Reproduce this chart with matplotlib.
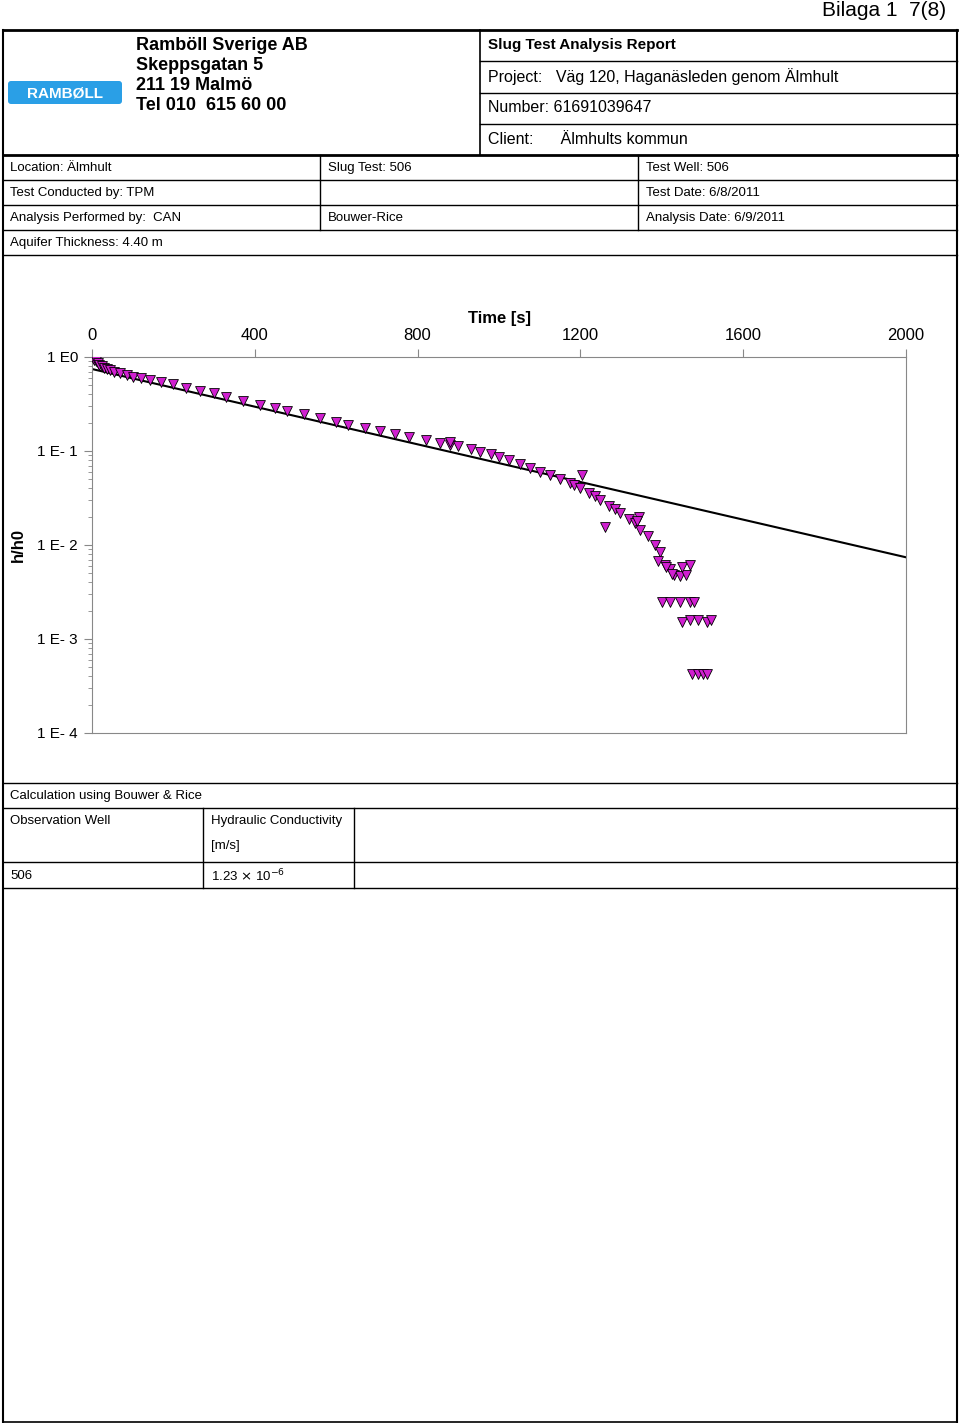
import matplotlib
matplotlib.use("Agg")
import matplotlib.pyplot as plt
from matplotlib.patches import FancyBboxPatch
from matplotlib.ticker import LogLocator, NullFormatter

plt.rcParams['font.family'] = ['Liberation Sans', 'DejaVu Sans']

# data (time in s, h/h0)
time_s = [2, 6, 10, 14, 18, 24, 30, 38, 45, 55, 69, 85, 100, 120, 143, 170, 200, 230, 265, 300, 330, 370,
          413, 450, 480, 520, 560, 600, 630, 670, 708, 745, 780, 820, 855, 880, 900, 930, 953, 980,
          1000, 1025, 1052, 1075, 1100, 1125, 1150, 1175, 1185, 1199, 1220, 1235, 1248, 1270, 1285, 1297,
          1320, 1335, 1346, 1365, 1383,
          1395, 1408, 1420, 1430, 1445, 1460, 1390, 1410, 1425, 1450, 1470,
          1400, 1420, 1445, 1470, 1480, 1450, 1470, 1490, 1510, 1520,
          1475, 1490, 1500, 1510, 1205, 1345, 1260, 1340, 880]
h_ratio = [0.97, 0.93, 0.90, 0.86, 0.83, 0.80, 0.77, 0.74, 0.72, 0.70, 0.68, 0.65, 0.62, 0.60, 0.57, 0.54,
           0.51, 0.47, 0.44, 0.41, 0.38, 0.34, 0.31, 0.285, 0.265, 0.245, 0.225, 0.205, 0.19, 0.175, 0.163,
           0.15, 0.14, 0.13, 0.122, 0.116, 0.112, 0.105, 0.098, 0.092, 0.087, 0.080, 0.072, 0.066, 0.060,
           0.055, 0.050, 0.046, 0.043, 0.040, 0.036, 0.033, 0.030, 0.026, 0.024, 0.022,
           0.019, 0.017, 0.0145, 0.0125, 0.010, 0.0085, 0.0062, 0.0055, 0.0048, 0.0047, 0.0048, 0.0068,
           0.0058, 0.0049, 0.0058, 0.0062, 0.0025, 0.0025, 0.0025, 0.0025, 0.0025, 0.0015, 0.0016, 0.0016,
           0.0015, 0.0016, 0.00042, 0.00042, 0.00042, 0.00042, 0.055, 0.020, 0.0155, 0.018, 0.125]
fit_t = [0, 2000]
fit_h = [0.745, 0.0074]

xticks = [0, 400, 800, 1200, 1600, 2000]
yticks = [1e0, 1e-1, 1e-2, 1e-3, 1e-4]
ylabels = ['1 E0', '1 E- 1', '1 E- 2', '1 E- 3', '1 E- 4']

W, H = 960, 1423
fig = plt.figure(figsize=(9.6, 14.23), dpi=100)
bg = fig.add_axes([0, 0, 1, 1])
bg.set_xlim(0, W); bg.set_ylim(H, 0); bg.axis('off')

def hl(y, x0=3, x1=957, lw=1.0):
    bg.plot([x0, x1], [y, y], color='black', lw=lw)
def vl(x, y0, y1, lw=1.0):
    bg.plot([x, x], [y0, y1], color='black', lw=lw)
def tx(x, y, s, size=9.5, **kw):
    bg.text(x, y, s, fontsize=size, va='center', ha='left', **kw)

hl(30, lw=2); hl(1422, lw=1.2); vl(3, 30, 1422, lw=1.5); vl(957, 30, 1422, lw=1.5)
hl(155, lw=2)
vl(480, 30, 155, lw=1.2)
for y in (61, 93, 124):
    hl(y, 480, 957)
for y in (180, 205, 230, 255):
    hl(y)
vl(320, 155, 230); vl(638, 155, 230)
for y in (783, 808, 862, 888):
    hl(y)
vl(203, 808, 888); vl(354, 808, 888)

tx(822, 11, 'Bilaga 1  7(8)', size=15)
bg.add_patch(FancyBboxPatch((8, 81), 114, 23, boxstyle='round,pad=0,rounding_size=3',
                            fc='#2a9fe6', ec='none'))
bg.text(65, 93, 'RAMBØLL', fontsize=11, color='white', weight='bold', ha='center', va='center')
for i, s in enumerate(['Ramböll Sverige AB', 'Skeppsgatan 5', '211 19 Malmö', 'Tel 010  615 60 00']):
    tx(136, 45 + i * 20, s, size=13, weight='bold')
tx(488, 45, 'Slug Test Analysis Report', size=11, weight='bold')
tx(488, 77, 'Project:   Väg 120, Haganäsleden genom Älmhult', size=11.5)
tx(488, 108, 'Number: 61691039647', size=11.5)
tx(488, 139, 'Client:      Älmhults kommun', size=11.5)
tx(10, 168, 'Location: Älmhult'); tx(328, 168, 'Slug Test: 506'); tx(646, 168, 'Test Well: 506')
tx(10, 193, 'Test Conducted by: TPM'); tx(646, 193, 'Test Date: 6/8/2011')
tx(10, 218, 'Analysis Performed by:  CAN'); tx(328, 218, 'Bouwer-Rice'); tx(646, 218, 'Analysis Date: 6/9/2011')
tx(10, 243, 'Aquifer Thickness: 4.40 m')
tx(10, 796, 'Calculation using Bouwer & Rice')
tx(10, 821, 'Observation Well'); tx(211, 821, 'Hydraulic Conductivity'); tx(211, 846, '[m/s]')
tx(10, 876, '506'); tx(211, 876, r'1.23 $\times$ 10$^{-6}$')

x0, x1, y0, y1 = 92, 906, 357, 733
ax = fig.add_axes([x0 / W, 1 - y1 / H, (x1 - x0) / W, (y1 - y0) / H])
ax.set_yscale('log')
ax.set_xlim(0, 2000); ax.set_ylim(1e-4, 1)
ax.plot(fit_t, fit_h, color='black', lw=1.5, zorder=2)
ax.scatter(time_s, h_ratio, marker='v', s=50, c='#d020d0', edgecolors='black', linewidths=0.6, zorder=3)
ax.xaxis.tick_top(); ax.xaxis.set_label_position('top')
ax.set_xticks(xticks); ax.set_xticklabels([str(v) for v in xticks], fontsize=12)
ax.set_yticks(yticks); ax.set_yticklabels(ylabels, fontsize=11)
ax.yaxis.set_minor_locator(LogLocator(base=10, subs=range(2, 10)))
ax.yaxis.set_minor_formatter(NullFormatter())
ax.tick_params(axis='both', which='major', length=6, color='#888888', pad=4)
ax.tick_params(axis='y', which='minor', length=3, color='#888888')
for s in ax.spines.values():
    s.set_color('#888888'); s.set_linewidth(0.8)
ax.set_xlabel('Time [s]', fontsize=12, weight='bold', labelpad=4)
ax.set_ylabel('h/h0', fontsize=12, weight='bold', labelpad=8)

fig.savefig('out.png', dpi=100)
